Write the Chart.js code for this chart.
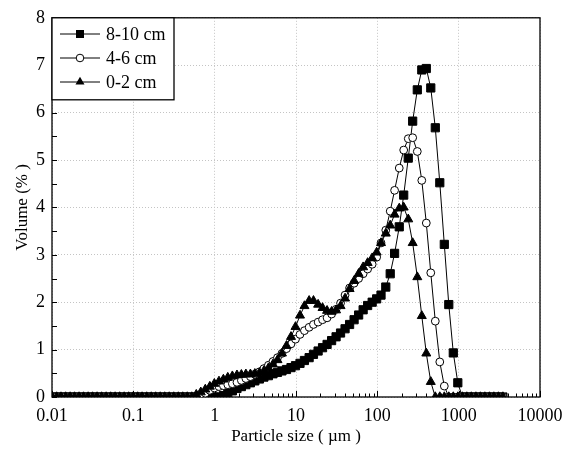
<!DOCTYPE html>
<html>
<head>
<meta charset="utf-8">
<script src="https://cdn.jsdelivr.net/npm/chart.js@4/dist/chart.umd.min.js"></script>
<style>
  body { margin: 0; background: #fff; }
  #wrap { width: 574px; height: 457px; position: relative; }
</style>
</head>
<body>
<div id="wrap"><canvas id="chartPSD"></canvas></div>
<script>
// particle size classes (um)
const sizes = [
  0.0100, 0.0114, 0.0129, 0.0147, 0.0167, 0.0189, 0.0215, 0.0244, 0.0278, 0.0315,
  0.0358, 0.0407, 0.0463, 0.0526, 0.0597, 0.0679, 0.0771, 0.0876, 0.0995, 0.113,
  0.128, 0.146, 0.166, 0.188, 0.214, 0.243, 0.276, 0.314, 0.357, 0.405,
  0.460, 0.523, 0.594, 0.675, 0.767, 0.872, 0.991, 1.13, 1.28, 1.45,
  1.65, 1.88, 2.13, 2.42, 2.75, 3.12, 3.55, 4.03, 4.58, 5.21,
  5.92, 6.72, 7.64, 8.68, 9.86, 11.2, 12.7, 14.5, 16.4, 18.7,
  21.2, 24.1, 27.4, 31.1, 35.3, 40.1, 45.6, 51.8, 58.9, 66.9,
  76.0, 86.4, 98.1, 111, 127, 144, 163, 186, 211, 240,
  272, 310, 352, 400, 454, 516, 586, 666, 756, 859,
  976, 1110, 1260, 1430, 1630, 1850, 2100, 2390, 2710, 3080,
  3500
];

const vol810 = [
  0, 0, 0, 0, 0, 0, 0, 0, 0, 0,
  0, 0, 0, 0, 0, 0, 0, 0, 0, 0,
  0, 0, 0, 0, 0, 0, 0, 0, 0, 0,
  0, 0, 0, 0, 0, 0, 0, 0, 0.03, 0.08,
  0.13, 0.18, 0.22, 0.26, 0.30, 0.34, 0.38, 0.42, 0.45, 0.49,
  0.52, 0.55, 0.58, 0.62, 0.66, 0.71, 0.77, 0.83, 0.90, 0.97,
  1.04, 1.11, 1.19, 1.27, 1.35, 1.44, 1.53, 1.63, 1.73, 1.84,
  1.93, 2.00, 2.07, 2.15, 2.32, 2.60, 3.03, 3.59, 4.26, 5.04,
  5.82, 6.48, 6.90, 6.93, 6.52, 5.68, 4.52, 3.22, 1.95, 0.93,
  0.30, 0, 0, 0, 0, 0, 0, 0, 0, 0,
  0
];

const vol46 = [
  0, 0, 0, 0, 0, 0, 0, 0, 0, 0,
  0, 0, 0, 0, 0, 0, 0, 0, 0, 0,
  0, 0, 0, 0, 0, 0, 0, 0, 0, 0,
  0, 0, 0, 0.03, 0.08, 0.14, 0.19, 0.22, 0.24, 0.26,
  0.28, 0.31, 0.35, 0.39, 0.43, 0.48, 0.53, 0.60, 0.67, 0.75,
  0.83, 0.92, 1.02, 1.12, 1.22, 1.32, 1.40, 1.47, 1.53, 1.58,
  1.63, 1.67, 1.75, 1.85, 1.98, 2.15, 2.30, 2.40, 2.50, 2.60,
  2.70, 2.80, 2.95, 3.25, 3.52, 3.92, 4.36, 4.83, 5.21, 5.45,
  5.47, 5.18, 4.57, 3.67, 2.62, 1.60, 0.74, 0.23, 0, 0,
  0, 0, 0, 0, 0, 0, 0, 0, 0, 0,
  0
];

const vol02 = [
  0, 0, 0, 0, 0, 0, 0, 0, 0, 0,
  0, 0, 0, 0, 0, 0, 0, 0, 0, 0,
  0, 0, 0, 0, 0, 0, 0, 0, 0, 0,
  0, 0, 0.05, 0.10, 0.16, 0.22, 0.28, 0.33, 0.37, 0.41,
  0.44, 0.46, 0.47, 0.48, 0.48, 0.49, 0.51, 0.55, 0.61, 0.69,
  0.78, 0.92, 1.08, 1.27, 1.48, 1.72, 1.92, 2.03, 2.03, 1.95,
  1.88, 1.82, 1.80, 1.83, 1.92, 2.08, 2.28, 2.45, 2.60, 2.74,
  2.83, 2.93, 3.05, 3.25, 3.45, 3.62, 3.85, 3.98, 4.00, 3.75,
  3.25, 2.53, 1.71, 0.92, 0.32, 0, 0, 0, 0, 0,
  0, 0, 0, 0, 0, 0, 0, 0, 0, 0,
  0
];

const seriesNames = ['8-10 cm', '4-6 cm', '0-2 cm'];
const xTicks = [0.01, 0.1, 1, 10, 100, 1000, 10000];

const serif = 'Liberation Serif';

function toPoints(vals) {
  return sizes.map((s, i) => ({ x: s, y: vals[i] }));
}

// legend marker shapes
function drawMarker(ctx, kind, x, y) {
  ctx.beginPath();
  if (kind === 'rect') {
    ctx.rect(x - 4, y - 4, 8, 8);
    ctx.fillStyle = '#000';
    ctx.fill();
  } else if (kind === 'circle') {
    ctx.arc(x, y, 3.8, 0, Math.PI * 2);
    ctx.fillStyle = '#fff';
    ctx.fill();
    ctx.stroke();
  } else {
    const r = 5.2;
    ctx.moveTo(x, y - r);
    ctx.lineTo(x + r * 0.866, y + r * 0.5);
    ctx.lineTo(x - r * 0.866, y + r * 0.5);
    ctx.closePath();
    ctx.fillStyle = '#000';
    ctx.fill();
  }
}

const framePlugin = {
  id: 'frame',
  beforeDatasetsDraw(chart) {
    const { ctx, chartArea: a, scales: { x, y } } = chart;
    ctx.save();
    ctx.strokeStyle = '#000';
    ctx.lineWidth = 1.3;
    ctx.strokeRect(a.left, a.top, a.right - a.left, a.bottom - a.top);

    ctx.lineWidth = 1;
    ctx.beginPath();
    // y ticks every 0.5, pointing inward
    for (let v = 0; v <= 8; v += 0.5) {
      const py = Math.round(y.getPixelForValue(v)) + 0.5;
      ctx.moveTo(a.left, py);
      ctx.lineTo(a.left + 5, py);
    }
    // x ticks: decades and 2..9 minors
    for (let d = -2; d <= 3; d++) {
      for (let m = 1; m <= 10; m++) {
        const v = m * Math.pow(10, d);
        const px = Math.round(x.getPixelForValue(v)) + 0.5;
        const len = (m === 1 || m === 10) ? 6 : 3.5;
        ctx.moveTo(px, a.bottom);
        ctx.lineTo(px, a.bottom - len);
      }
    }
    ctx.stroke();
    ctx.restore();
  },
  afterDatasetsDraw(chart) {
    const { ctx, chartArea: a } = chart;
    const kinds = ['rect', 'circle', 'triangle'];
    const rows = [34, 58, 82];
    ctx.save();
    ctx.fillStyle = '#fff';
    ctx.fillRect(a.left, a.top, 122, 82);
    ctx.strokeStyle = '#000';
    ctx.lineWidth = 1.3;
    ctx.strokeRect(a.left, a.top, 122, 82);
    ctx.lineWidth = 1;
    ctx.font = '18px "' + serif + '"';
    ctx.textBaseline = 'middle';
    seriesNames.forEach((name, i) => {
      const yy = rows[i];
      ctx.beginPath();
      ctx.moveTo(a.left + 8, yy);
      ctx.lineTo(a.left + 48, yy);
      ctx.strokeStyle = '#000';
      ctx.stroke();
      drawMarker(ctx, kinds[i], a.left + 28, yy);
      ctx.fillStyle = '#000';
      ctx.fillText(name, a.left + 54, yy + 1);
    });
    ctx.restore();
  }
};

const ctx = document.getElementById('chartPSD').getContext('2d');
new Chart(ctx, {
  type: 'line',
  data: {
    datasets: [
      {
        label: seriesNames[0], data: toPoints(vol810), order: 3,
        borderColor: '#000', borderWidth: 1, tension: 0,
        pointStyle: 'rect', pointRadius: 5.8,
        pointBackgroundColor: '#000', pointBorderColor: '#000', pointBorderWidth: 1
      },
      {
        label: seriesNames[1], data: toPoints(vol46), order: 2,
        borderColor: '#000', borderWidth: 1, tension: 0,
        pointStyle: 'circle', pointRadius: 3.9,
        pointBackgroundColor: '#fff', pointBorderColor: '#000', pointBorderWidth: 1
      },
      {
        label: seriesNames[2], data: toPoints(vol02), order: 1,
        borderColor: '#000', borderWidth: 1, tension: 0,
        pointStyle: 'triangle', pointRadius: 5.2,
        pointBackgroundColor: '#000', pointBorderColor: '#000', pointBorderWidth: 1
      }
    ]
  },
  options: {
    responsive: true,
    maintainAspectRatio: false,
    animation: false,
    layout: { padding: { top: 17, right: 34, left: 0, bottom: 0 } },
    plugins: { legend: { display: false }, tooltip: { enabled: false } },
    scales: {
      x: {
        type: 'logarithmic',
        min: 0.01,
        max: 10000,
        afterBuildTicks: s => { s.ticks = xTicks.map(v => ({ value: v })); },
        afterFit: s => { s.height = 60; },
        ticks: {
          autoSkip: false, maxRotation: 0, padding: 8, color: '#000',
          font: { family: serif, size: 18 },
          callback: v => String(v)
        },
        grid: { color: '#c4c4c4', lineWidth: 1, drawTicks: false },
        border: { display: false, dash: [1, 2] },
        title: {
          display: true, text: 'Particle size ( µm )', color: '#000',
          font: { family: serif, size: 17 }, padding: { top: 0, bottom: 10 }
        }
      },
      y: {
        min: 0,
        max: 8,
        afterFit: s => { s.width = 52; },
        ticks: {
          stepSize: 1, padding: 7, color: '#000',
          font: { family: serif, size: 18 }
        },
        grid: { color: '#c4c4c4', lineWidth: 1, drawTicks: false },
        border: { display: false, dash: [1, 2] },
        title: {
          display: true, text: 'Volume (% )', color: '#000',
          font: { family: serif, size: 17 }, padding: { top: 12, bottom: 0 }
        }
      }
    }
  },
  plugins: [framePlugin]
});
</script>
</body>
</html>
